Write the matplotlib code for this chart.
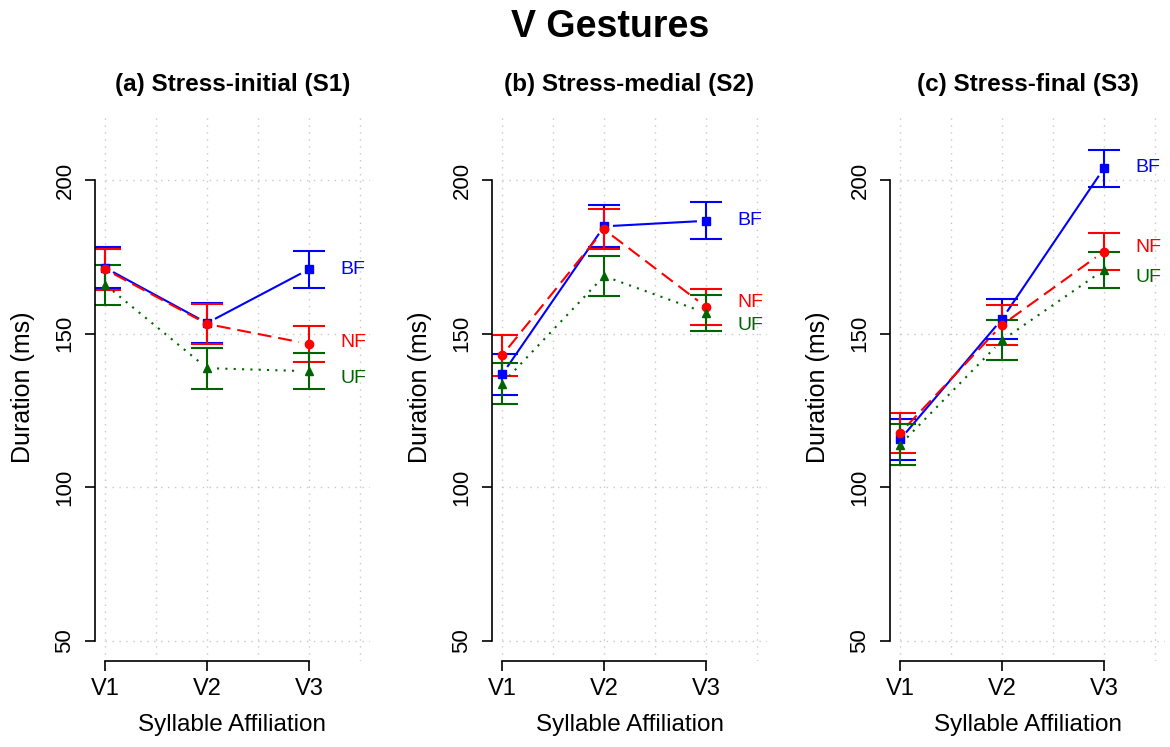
import numpy as np
import matplotlib
matplotlib.use("Agg")
from matplotlib import pyplot as plt

plt.rcParams['font.family'] = ['Liberation Sans', 'DejaVu Sans']
plt.rcParams['lines.scale_dashes'] = False

conds = ['V1', 'V2', 'V3']
panels = ['(a) Stress-initial (S1)', '(b) Stress-medial (S2)', '(c) Stress-final (S3)']
groups = ['BF', 'NF', 'UF']

# mean durations (ms) per panel, rows = BF, NF, UF
means = [
    [[171.5, 153.5, 171.0], [171.0, 153.2, 146.7], [166.0, 138.8, 137.8]],
    [[136.8, 185.0, 186.8], [143.0, 184.0, 158.8], [133.8, 168.8, 156.8]],
    [[115.6, 154.8, 203.9], [117.7, 152.9, 176.8], [113.9, 147.9, 170.8]],
]
# error bar half widths
errs = [
    [[6.7, 6.6, 6.0], [6.7, 6.5, 5.9], [6.5, 6.7, 5.9]],
    [[6.7, 6.8, 6.0], [6.7, 6.5, 5.8], [6.6, 6.5, 5.8]],
    [[6.8, 6.6, 6.1], [6.5, 6.6, 6.0], [6.6, 6.5, 6.0]],
]
# vertical nudges for the BF/NF/UF end labels
label_nudge = [[0.0, 0.5, -2.5], [0.0, 1.3, -4.2], [0.4, 1.3, -2.4]]

colors = ['#0000FF', '#FF0000', '#006400']
markers = ['s', 'o', '^']
styles = [dict(linestyle='-'), dict(dashes=(10, 5)), dict(dashes=(1.5, 4.5))]
yticks = [50, 100, 150, 200]
grid_ls = (0, (1, 4))

W, H = 1170, 747
fig = plt.figure(figsize=(W / 100, H / 100), dpi=100)
fig.text(610 / W, 1 - 27 / H, 'V Gestures', ha='center', va='center',
         fontsize=27, fontweight='bold')

lefts = [95, 492, 890]
aw, top, bot = 275, 114, 661
GAP = 10  # px gap between line ends and points (type="b")


def gapped_line(ax, xs, ys, color, style):
    pts = ax.transData.transform(np.column_stack([xs, ys]))
    inv = ax.transData.inverted()
    for p0, p1 in zip(pts[:-1], pts[1:]):
        d = p1 - p0
        u = d / np.hypot(*d)
        a, b = inv.transform(np.array([p0 + u * GAP, p1 - u * GAP]))
        ax.plot([a[0], b[0]], [a[1], b[1]], color=color, lw=1.5, **style)


for k in range(3):
    ax = fig.add_axes([lefts[k] / W, 1 - bot / H, aw / W, (bot - top) / H])
    ax.set_xlim(0.9, 3.6)
    ax.set_ylim(43.4, 221.6)
    x = np.arange(1, len(conds) + 1)

    ax.vlines(np.arange(1, 3.51, 0.5), 43.4, 221.6, color='#c8c8c8', lw=1,
              linestyle=grid_ls, zorder=0)
    ax.hlines(yticks, 1, 3.6, color='#c8c8c8', lw=1, linestyle=grid_ls, zorder=0)

    for g in range(3):
        m, e = means[k][g], errs[k][g]
        ax.errorbar(x, m, yerr=e, fmt='none', ecolor=colors[g], elinewidth=1.5,
                    capsize=11.5, capthick=1.5, zorder=2)
        gapped_line(ax, x, m, colors[g], styles[g])
        ax.plot(x, m, linestyle='none', marker=markers[g], color=colors[g],
                markersize=6, zorder=3)
        ax.text(3.31, m[-1] + label_nudge[k][g], groups[g], color=colors[g],
                fontsize=14, ha='left', va='center')

    for s in ['top', 'right']:
        ax.spines[s].set_visible(False)
    ax.spines['left'].set_bounds(50, 200)
    ax.spines['bottom'].set_bounds(1, 3)
    for s in ['left', 'bottom']:
        ax.spines[s].set_linewidth(1.2)
    ax.set_xticks(x)
    ax.set_xticklabels(conds)
    ax.set_yticks(yticks)
    ax.tick_params(direction='out', length=7, width=1.2)
    ax.tick_params(axis='x', pad=5, labelsize=17)
    ax.tick_params(axis='y', pad=7, labelsize=16, labelrotation=90)
    for t in ax.get_yticklabels():
        t.set_va('center')

    ax.text(0.5, 1 + 30 / (bot - top), panels[k], transform=ax.transAxes,
            ha='center', va='center', fontsize=17.5, fontweight='bold')
    ax.text(0.5, -64 / (bot - top), 'Syllable Affiliation', transform=ax.transAxes,
            ha='center', va='center', fontsize=17.5)
    ax.text(-72 / aw, 0.5, 'Duration (ms)', transform=ax.transAxes,
            ha='center', va='center', rotation=90, fontsize=18)

fig.savefig('out.png', dpi=100)
